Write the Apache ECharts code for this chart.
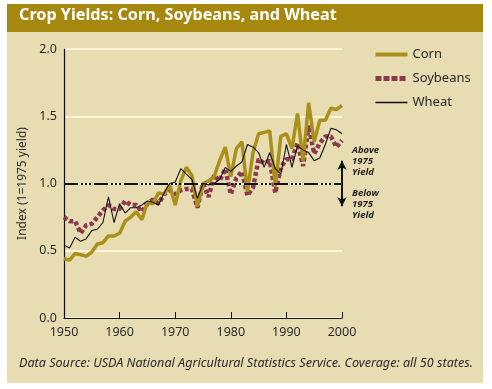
<!DOCTYPE html>
<html><head><meta charset="utf-8">
<script src="https://cdn.jsdelivr.net/npm/echarts@6/dist/echarts.min.js"></script>
<style>html,body{margin:0;padding:0;background:#fff}#c{width:492px;height:389px}</style>
</head><body><div id="c"></div>
<script>
const years = [1950,1951,1952,1953,1954,1955,1956,1957,1958,1959,1960,1961,1962,1963,1964,1965,1966,1967,1968,1969,1970,1971,1972,1973,1974,1975,1976,1977,1978,1979,1980,1981,1982,1983,1984,1985,1986,1987,1988,1989,1990,1991,1992,1993,1994,1995,1996,1997,1998,1999,2000];
const corn = [0.44,0.43,0.48,0.47,0.46,0.49,0.55,0.56,0.61,0.61,0.63,0.72,0.75,0.79,0.73,0.86,0.85,0.93,0.92,0.99,0.84,1.02,1.12,1.06,0.83,1.00,1.02,1.05,1.17,1.27,1.05,1.26,1.31,0.94,1.23,1.37,1.38,1.39,0.98,1.35,1.37,1.26,1.52,1.17,1.60,1.31,1.47,1.47,1.56,1.55,1.58];
const soybeans = [0.75,0.72,0.72,0.63,0.69,0.70,0.75,0.80,0.84,0.81,0.81,0.87,0.84,0.84,0.79,0.85,0.88,0.85,0.92,0.95,0.92,0.95,0.96,0.96,0.82,1.00,0.90,1.06,1.02,1.11,0.92,1.04,1.09,0.91,0.97,1.18,1.15,1.17,0.93,1.12,1.18,1.18,1.30,1.13,1.43,1.22,1.30,1.35,1.35,1.27,1.32];
const wheat = [0.54,0.52,0.60,0.57,0.59,0.65,0.66,0.71,0.90,0.71,0.85,0.78,0.82,0.82,0.84,0.87,0.86,0.84,0.93,1.00,1.01,1.11,1.07,1.03,0.89,1.00,0.99,1.00,1.03,1.12,1.09,1.13,1.16,1.29,1.27,1.23,1.12,1.23,1.11,1.07,1.29,1.12,1.28,1.25,1.23,1.17,1.19,1.29,1.41,1.40,1.37];
const xTicks = [1950,1960,1970,1980,1990,2000];
const yTicks = [0.0,0.5,1.0,1.5,2.0];
const baseline = 1.0;
const title = 'Crop Yields: Corn, Soybeans, and Wheat';
const source = 'Data Source: USDA National Agricultural Statistics Service. Coverage: all 50 states.';

const FONT = '"Noto Sans", "Open Sans", sans-serif';
const pair = arr => years.map((y,i)=>[y,arr[i]]);

const chart = echarts.init(document.getElementById('c'));
chart.setOption({
  animation:false,
  textStyle:{fontFamily:FONT},
  graphic:[
    {type:'rect', z:-100, shape:{x:7,y:32,width:476,height:351}, style:{fill:'#E7DCB2'}},
    {type:'rect', z:-100, shape:{x:7,y:4,width:476,height:28}, style:{fill:'#A5880D'}},
    {type:'text', left:19, top:7, style:{text:title, fill:'#fff', font:'bold 16.2px '+FONT}},
    {type:'text', left:19, top:357, style:{text:source, fill:'#2a2a2a', font:'italic 12.6px '+FONT}},
    {type:'text', left:352, top:145, style:{text:'Above\n1975\nYield', fill:'#222', font:'italic bold 9.5px '+FONT, lineHeight:11}},
    {type:'text', left:352, top:188, style:{text:'Below\n1975\nYield', fill:'#222', font:'italic bold 9.5px '+FONT, lineHeight:11}}
  ],
  grid:{left:64, right:150, top:49, bottom:71},
  legend:{
    orient:'vertical', left:368, top:43, itemWidth:32, itemHeight:12, itemGap:11,
    itemStyle:{opacity:0},
    textStyle:{fontSize:13, color:'#2a2a2a', fontFamily:FONT},
    data:[
      {name:'Corn', lineStyle:{width:4}},
      {name:'Soybeans', lineStyle:{width:5, type:[6,2]}},
      {name:'Wheat', lineStyle:{width:1.5}}
    ]
  },
  xAxis:{
    type:'value', min:1950, max:2000, interval:10,
    axisLine:{lineStyle:{color:'#111', width:1.2}},
    axisTick:{inside:true, length:6, lineStyle:{color:'#111'}},
    axisLabel:{color:'#2a2a2a', fontSize:12.5, margin:8, formatter:v=>String(v)},
    splitLine:{show:false}
  },
  yAxis:{
    type:'value', min:0, max:2, interval:0.5,
    name:'Index (1=1975 yield)', nameLocation:'middle', nameGap:27,
    nameTextStyle:{color:'#2a2a2a', fontSize:12},
    axisLine:{show:true, lineStyle:{color:'#111', width:1.2}},
    axisTick:{show:false},
    axisLabel:{color:'#2a2a2a', fontSize:12.5, margin:7, formatter:v=>v.toFixed(1)},
    splitLine:{show:true, lineStyle:{color:'#FBF3DA', width:2}, interval:(i,v)=>i!==2}
  },
  series:[
    {name:'Corn', type:'line', data:pair(corn), symbol:'none', z:3,
     lineStyle:{color:'#A8901A', width:3.5}, itemStyle:{color:'#A8901A'},
     markLine:{silent:true, symbol:['arrow','arrow'], symbolSize:[7,9],
       lineStyle:{color:'#111', width:2, type:'solid'}, label:{show:false},
       data:[[{coord:[2000,0.83]},{coord:[2000,1.17]}]]}
    },
    {name:'Soybeans', type:'line', data:pair(soybeans), symbol:'none', z:2,
     lineStyle:{color:'#8A3A4E', width:4.5, type:[4,2.5]}, itemStyle:{color:'#8A3A4E'},
     markLine:{silent:true, symbol:'none',
       lineStyle:{color:'#111', width:2.2, type:[14,3,2,2,2,2,2,3]}, label:{show:false},
       data:[{yAxis:baseline}]}
    },
    {name:'Wheat', type:'line', data:pair(wheat), symbol:'none', z:4,
     lineStyle:{color:'#111', width:1.1}, itemStyle:{color:'#111'}}
  ]
});
</script></body></html>
